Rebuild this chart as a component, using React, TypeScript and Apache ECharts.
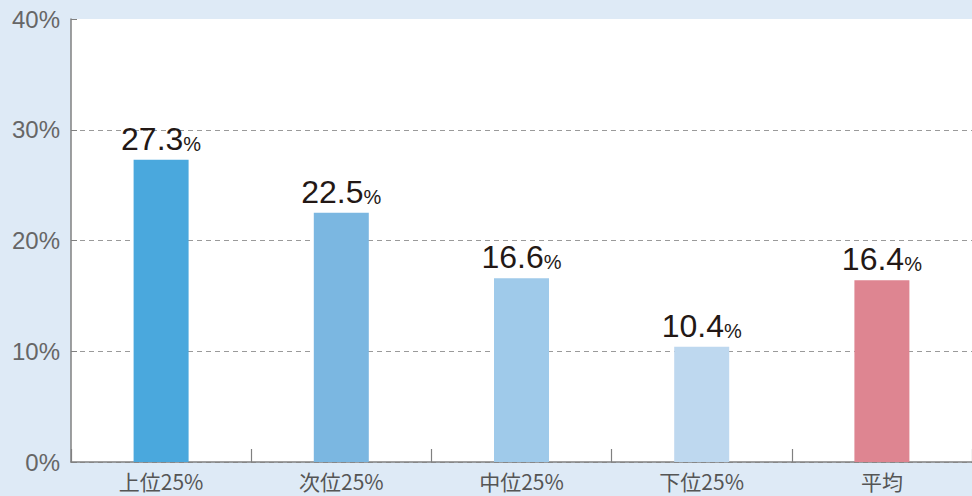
import React, { useEffect, useRef } from "react";
import * as echarts from "echarts";

const categories = ["上位25%", "次位25%", "中位25%", "下位25%", "平均"];
const values = [27.3, 22.5, 16.6, 10.4, 16.4];
const barColors = ["#4aa8dd", "#7bb7e1", "#9fcaea", "#bed8ef", "#de8591"];
const yTicks = { min: 0, max: 40, interval: 10 };

export default function App() {
  const ref = useRef<HTMLDivElement>(null);
  useEffect(() => {
    document.body.style.margin = "0";
    const chart = echarts.init(ref.current!, null, { renderer: "svg" });
    chart.setOption({
      animation: false,
      backgroundColor: "#deeaf6",
      grid: {
        left: 71,
        right: 0,
        top: 19,
        bottom: 34,
        show: true,
        backgroundColor: "#ffffff",
        borderWidth: 0,
      },
      xAxis: {
        type: "category",
        data: categories,
        axisLine: { lineStyle: { color: "#808080", width: 1.5 } },
        axisTick: { show: true, inside: true, length: 13, lineStyle: { color: "#808080", width: 1.2 } },
        axisLabel: {
          color: "#555555",
          fontSize: 21,
          fontFamily: "Noto Sans CJK JP",
          margin: 8,
        },
      },
      yAxis: {
        type: "value",
        min: yTicks.min,
        max: yTicks.max,
        interval: yTicks.interval,
        axisLine: { show: true, lineStyle: { color: "#808080", width: 1.5 } },
        axisTick: { show: true, inside: true, length: 6, lineStyle: { color: "#808080" } },
        axisLabel: {
          formatter: "{value}%",
          color: "#666666",
          fontSize: 24,
          fontFamily: "Liberation Sans",
          margin: 11,
        },
        splitLine: {
          show: true,
          showMaxLine: false,
          lineStyle: { color: "#9a9a9a", type: [5, 4], width: 1 },
        },
      },
      series: [
        {
          type: "bar",
          barWidth: 55,
          data: values.map((v, i) => ({ value: v, itemStyle: { color: barColors[i] } })),
          label: {
            show: true,
            position: "top",
            distance: 6,
            formatter: "{a|{c}}{b|%}",
            rich: {
              a: { fontSize: 32, fontFamily: "Liberation Sans", color: "#231815", lineHeight: 30 },
              b: { fontSize: 20, fontFamily: "Liberation Sans", color: "#231815", lineHeight: 30, verticalAlign: "bottom" },
            },
          },
        },
      ],
    });
    return () => chart.dispose();
  }, []);
  return <div ref={ref} style={{ width: 972, height: 496 }} />;
}
